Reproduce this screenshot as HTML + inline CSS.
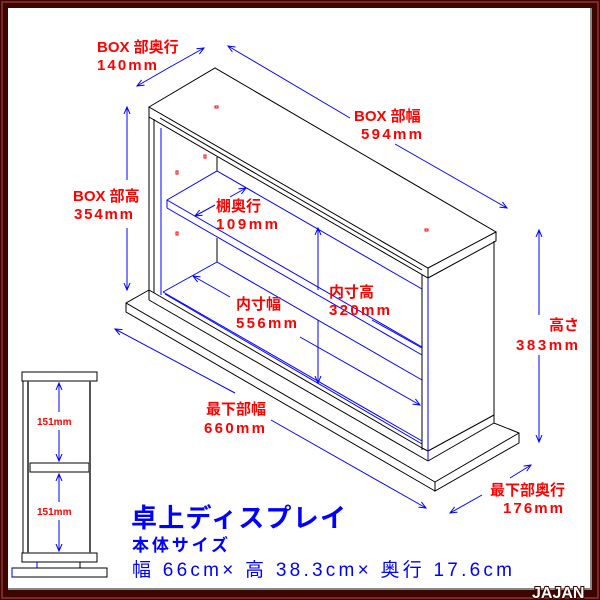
<!DOCTYPE html>
<html><head><meta charset="utf-8"><style>
html,body{margin:0;padding:0;width:600px;height:600px;overflow:hidden;background:#4a0a00}
svg{display:block}
text{font-family:"Liberation Sans","Noto Sans CJK JP",sans-serif}
.r{fill:#f00;font-size:15px;font-weight:bold}
.b{fill:#00f;font-weight:bold}
</style></head><body>
<svg width="600" height="600" viewBox="0 0 600 600" xmlns="http://www.w3.org/2000/svg">
<rect x="0" y="0" width="600" height="600" fill="#3d0500"/>
<rect x="2" y="2" width="596" height="596" fill="none" stroke="#7a2a20" stroke-width="2"/>
<rect x="8" y="8" width="584" height="582" fill="#fff"/>
<line x1="591" y1="8" x2="591" y2="590" stroke="#888" stroke-width="2"/>
<line x1="8" y1="589" x2="592" y2="589" stroke="#888" stroke-width="2"/>

<g fill="none" stroke="#000" stroke-width="1">
<polygon points="149,107 215,68 496,232 428,268" fill="#fff"/>
<polyline points="149,107 149,117 428,278 428,268"/>
<polyline points="428,278 496,241 496,232"/>
<line x1="422" y1="275" x2="422" y2="450"/>
<line x1="428" y1="278" x2="428" y2="461"/>
<line x1="494" y1="241" x2="494" y2="423"/>
<polyline points="422,448 428,451 494,415"/>
<polyline points="428,461 494,423 519,433 519,443 435,491 435,482 519,433"/>
<line x1="149" y1="117" x2="149" y2="300"/>
<line x1="154" y1="119" x2="154" y2="293"/>
<line x1="160" y1="118" x2="422" y2="270"/>
<line x1="149" y1="290" x2="422" y2="448"/>
<line x1="149" y1="300" x2="428" y2="461"/>
<line x1="217" y1="157" x2="217" y2="171"/>
<line x1="217" y1="238" x2="217" y2="262"/>
<polyline points="149,290 126,303 126,312 435,491"/>
<line x1="126" y1="303" x2="435" y2="482"/>
</g>
<g fill="none" stroke="#00f" stroke-width="1">
<line x1="161" y1="128" x2="161" y2="295"/>
<line x1="163" y1="292" x2="422" y2="441"/>
<line x1="165" y1="294" x2="422" y2="444"/>
<line x1="217" y1="262" x2="163" y2="292"/>
<line x1="217" y1="262" x2="422" y2="380"/>
<polyline points="167,208 167,200 217,171 422,289"/>
<line x1="167" y1="200" x2="422" y2="347"/>
<line x1="167" y1="208" x2="422" y2="355"/>
<line x1="428" y1="278" x2="428" y2="461"/>
</g>
<g fill="none" stroke="#f00" stroke-width="1">
<rect x="215" y="106" width="3" height="2"/><rect x="425" y="229" width="3" height="2"/>
<rect x="204" y="155" width="2" height="3"/><rect x="176" y="171" width="2" height="3"/><rect x="176" y="232" width="2" height="3"/>
</g>

<defs><marker id="a" markerWidth="8" markerHeight="8" refX="7" refY="4" orient="auto"><path d="M0,1 L7,4 L0,7" fill="none" stroke="#00f"/></marker></defs>
<g stroke="#00f" stroke-width="1" fill="none">
<line x1="170" y1="67" x2="137" y2="86" marker-end="url(#a)"/><line x1="170" y1="67" x2="204" y2="48" marker-end="url(#a)"/>
<line x1="350" y1="118" x2="228" y2="46" marker-end="url(#a)"/><line x1="395" y1="144" x2="507" y2="208" marker-end="url(#a)"/>
<line x1="127" y1="180" x2="127" y2="107" marker-end="url(#a)"/><line x1="127" y1="228" x2="127" y2="290" marker-end="url(#a)"/>
<line x1="539" y1="315" x2="539" y2="230" marker-end="url(#a)"/><line x1="539" y1="355" x2="539" y2="442" marker-end="url(#a)"/>
<line x1="215" y1="205" x2="195" y2="216" marker-end="url(#a)"/><line x1="230" y1="197" x2="246" y2="188" marker-end="url(#a)"/>
<line x1="318" y1="290" x2="318" y2="228" marker-end="url(#a)"/><line x1="318" y1="320" x2="318" y2="383" marker-end="url(#a)"/>
<line x1="230" y1="297" x2="193" y2="276" marker-end="url(#a)"/><line x1="300" y1="337" x2="420" y2="405" marker-end="url(#a)"/>
<line x1="235" y1="393" x2="115" y2="329" marker-end="url(#a)"/><line x1="271" y1="420" x2="426" y2="508" marker-end="url(#a)"/>
<line x1="482" y1="495" x2="450" y2="513" marker-end="url(#a)"/><line x1="510" y1="478" x2="531" y2="465" marker-end="url(#a)"/>
<line x1="372" y1="320" x2="422" y2="348"/>
</g>

<text class="r" x="97" y="52">BOX 部奥行</text><text class="r" x="97" y="70" textLength="60">140mm</text>
<text class="r" x="354" y="121">BOX 部幅</text><text class="r" x="361" y="139" textLength="61">594mm</text>
<text class="r" x="73" y="201">BOX 部高</text><text class="r" x="74" y="219" textLength="59">354mm</text>
<text class="r" x="549" y="330">高さ</text><text class="r" x="516" y="350" textLength="62">383mm</text>
<text class="r" x="216" y="211">棚奥行</text><text class="r" x="216" y="229" textLength="62">109mm</text>
<text class="r" x="329" y="297">内寸高</text><text class="r" x="329" y="315" textLength="61">320mm</text>
<text class="r" x="236" y="309">内寸幅</text><text class="r" x="236" y="328" textLength="61">556mm</text>
<text class="r" x="206" y="414">最下部幅</text><text class="r" x="204" y="433" textLength="61">660mm</text>
<text class="r" x="490" y="495">最下部奥行</text><text class="r" x="503" y="513" textLength="60">176mm</text>

<g fill="#fff" stroke="#000" stroke-width="1">
<rect x="22" y="372" width="75" height="9"/>
<rect x="22" y="553" width="75" height="9"/>
<line x1="23" y1="381" x2="23" y2="553"/>
<rect x="37" y="562" width="43" height="6"/>
<rect x="12" y="568" width="95" height="9"/>
<rect x="30" y="463" width="59" height="9"/>
</g>
<line x1="28" y1="381" x2="28" y2="553" stroke="#555" stroke-width="2"/>
<line x1="90" y1="381" x2="90" y2="553" stroke="#555" stroke-width="2"/>
<g stroke="#00f" stroke-width="1">
<line x1="59" y1="412" x2="59" y2="383" marker-end="url(#a)"/><line x1="59" y1="430" x2="59" y2="461" marker-end="url(#a)"/>
<line x1="59" y1="502" x2="59" y2="474" marker-end="url(#a)"/><line x1="59" y1="520" x2="59" y2="551" marker-end="url(#a)"/>
<line x1="37" y1="562" x2="37" y2="568"/><line x1="12" y1="568" x2="12" y2="577"/>
</g>
<text class="r" x="37" y="425" style="font-size:10px">151mm</text>
<text class="r" x="37" y="515" style="font-size:10px">151mm</text>

<text class="b" x="131" y="527" style="font-size:26px" textLength="215">卓上ディスプレイ</text>
<text class="b" x="132" y="551" style="font-size:17px" textLength="96">本体サイズ</text>
<text x="132" y="576" style="font-size:19px;fill:#00f" textLength="380">幅 66cm× 高 38.3cm× 奥行 17.6cm</text>

<text x="532" y="598" style="font-size:16px;font-weight:bold;fill:#fff;stroke:#3d0500;stroke-width:2;paint-order:stroke">JAJAN</text>
</svg>
</body></html>
